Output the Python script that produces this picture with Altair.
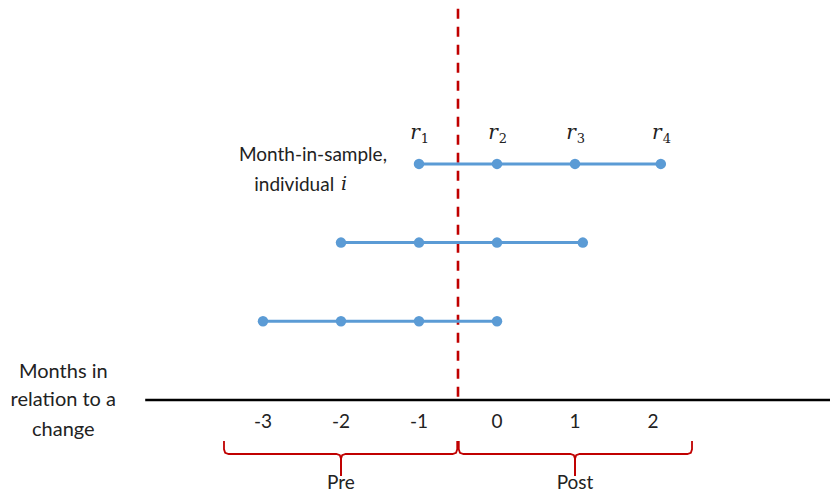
import altair as alt
import pandas as pd

# ---- data (in diagram units) ----
row_level = [3, 2, 1]
row1_x = [-1, 0, 1, 2.1]
row2_x = [-2, -1, 0, 1.1]
row3_x = [-3, -2, -1, 0]
r_base = ["r", "r", "r", "r"]
r_sub = ["1", "2", "3", "4"]
tick_values = [-3, -2, -1, 0, 1, 2]
tick_labels = ["-3", "-2", "-1", "0", "1", "2"]
change_at = -0.5
brace_names = ["Pre", "Post"]
brace_start = [-3.5, -0.49]
brace_tip = [-2, 1]
brace_end = [-0.51, 2.5]
left_title = ["Months in", "relation to a", "change"]

# ---- geometry of the diagram canvas ----
W, H = 822, 487
XDOM = [-6.269, 4.269]
YDOM = [-1.207, 4.981]

xs = alt.Scale(domain=XDOM, nice=False, zero=False)
ys = alt.Scale(domain=YDOM, nice=False, zero=False)
X = lambda f: alt.X(f, type="quantitative", scale=xs, axis=None)
Y = lambda f: alt.Y(f, type="quantitative", scale=ys, axis=None)

BLUE = "#5B9BD5"
RED = "#C00000"
FONT = "Lato"
TXT = "#222222"

rows = []
for lvl, xv in zip(row_level, [row1_x, row2_x, row3_x]):
    for i, v in enumerate(xv):
        rows.append({"row": lvl, "x": v, "i": i})
pts = pd.DataFrame(rows)

lines = alt.Chart(pts).mark_line(color=BLUE, strokeWidth=3).encode(
    x=X("x"), y=Y("row"), detail="row:N", order="i:Q")
dots = alt.Chart(pts).mark_circle(color=BLUE, size=110, opacity=1).encode(
    x=X("x"), y=Y("row"))

rlab = pd.DataFrame({"x": row1_x, "t": r_base, "s": r_sub, "y": [3.39] * 4})
rtext = alt.Chart(rlab).mark_text(font="DejaVu Serif", fontStyle="italic", fontSize=20,
                                  color=TXT, baseline="middle", dx=-4).encode(
    x=X("x"), y=Y("y"), text="t:N")
rsub = alt.Chart(rlab).mark_text(font="DejaVu Serif", fontSize=13,
                                 color=TXT, baseline="middle", dx=6, dy=6).encode(
    x=X("x"), y=Y("y"), text="s:N")

# label "Month-in-sample, individual i"
lab1 = alt.Chart(pd.DataFrame({"x": [-2.36], "y": [3.113], "t": ["Month-in-sample,"]})).mark_text(
    font=FONT, fontSize=19, color=TXT, baseline="middle").encode(x=X("x"), y=Y("y"), text="t:N")
lab2 = alt.Chart(pd.DataFrame({"x": [-2.6], "y": [2.732], "t": ["individual"]})).mark_text(
    font=FONT, fontSize=19, color=TXT, baseline="middle").encode(x=X("x"), y=Y("y"), text="t:N")
lab3 = alt.Chart(pd.DataFrame({"x": [-1.96], "y": [2.74], "t": ["i"]})).mark_text(
    font="DejaVu Serif", fontStyle="italic", fontSize=19, color=TXT, baseline="middle").encode(
    x=X("x"), y=Y("y"), text="t:N")

# dashed change line
dash = alt.Chart(pd.DataFrame({"x": [change_at], "y1": [4.97], "y2": [0]})).mark_rule(
    color=RED, strokeWidth=2.6, strokeDash=[10, 8]).encode(x=X("x"), y=Y("y1"), y2="y2")

# horizontal time axis
axis_line = alt.Chart(pd.DataFrame({"x1": [-4.51], "x2": [XDOM[1]], "y": [0]})).mark_rule(
    color="black", strokeWidth=2.6).encode(x=X("x1"), x2="x2", y=Y("y"))

ticks = alt.Chart(pd.DataFrame({"x": tick_values, "t": tick_labels, "y": [-0.28] * 6})).mark_text(
    font=FONT, fontSize=19, color=TXT, baseline="middle").encode(x=X("x"), y=Y("y"), text="t:N")

lt = alt.Chart(pd.DataFrame({"x": [-5.56] * 3, "y": [0.356, 0.0, -0.381], "t": left_title})).mark_text(
    font=FONT, fontSize=20, color=TXT, baseline="middle").encode(x=X("x"), y=Y("y"), text="t:N")

# braces
TOP, MID, BOT = -0.521, -0.686, -0.966
cx, cy = 0.06, 0.06
brows = []
for name, s, tip, e in zip(brace_names, brace_start, brace_tip, brace_end):
    left = [(s, TOP), (s, MID + cy), (s + 0.015, MID + 0.015), (s + cx, MID),
            (tip - cx, MID), (tip - 0.015, MID - 0.015), (tip, MID - cy), (tip, BOT)]
    right = [(e, TOP), (e, MID + cy), (e - 0.015, MID + 0.015), (e - cx, MID),
             (tip + cx, MID), (tip + 0.015, MID - 0.015), (tip, MID - cy), (tip, BOT)]
    for side, seq in (("L", left), ("R", right)):
        for k, (bx, by) in enumerate(seq):
            brows.append({"g": name + side, "x": bx, "y": by, "k": k})
bdf = pd.DataFrame(brows)
braces = alt.Chart(bdf).mark_line(color=RED, strokeWidth=1.8).encode(
    x=X("x"), y=Y("y"), detail="g:N", order="k:Q")

blab = alt.Chart(pd.DataFrame({"x": brace_tip, "y": [-1.055] * 2, "t": brace_names})).mark_text(
    font=FONT, fontSize=19, color=TXT, baseline="middle").encode(x=X("x"), y=Y("y"), text="t:N")

chart = alt.layer(dash, axis_line, lines, dots, rtext, rsub, lab1, lab2, lab3, ticks, lt, braces, blab).properties(
    width=W, height=H, autosize=alt.AutoSizeParams(type="none"), padding=0,
    background="white").configure_view(stroke=None)

chart.save("out.html", embed_options={"renderer": "svg", "actions": False})
